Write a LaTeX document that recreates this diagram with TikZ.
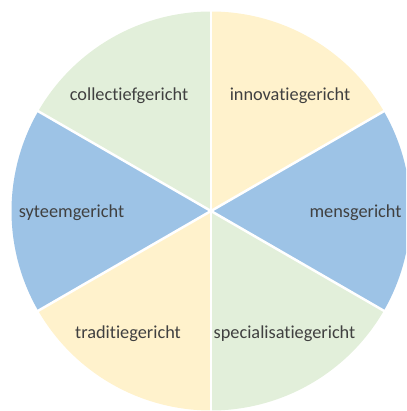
\documentclass[tikz,border=0pt]{standalone}
\usepackage{fontspec}
\setmainfont{Carlito}[Ligatures=NoCommon]
\usepackage{tikz}
\definecolor{Leaf}{HTML}{E2EFDA}
\definecolor{Cream}{HTML}{FFF2CC}
\definecolor{Sky}{HTML}{9DC3E6}
\definecolor{Ink}{HTML}{404040}

\begin{document}
\begin{tikzpicture}[x=1pt,y=1pt,
    sector/.style={draw=white,line width=2.5pt,line join=round},
    every node/.style={font=\fontsize{18.3}{21}\selectfont,text=Ink,inner sep=0pt}]
    \useasboundingbox (0,-411) rectangle (406,0);
    \clip (0,-411) rectangle (406,0);
    \coordinate (c) at (211,-211);
    % six sectors, clockwise from the top
    \foreach \a/\col in {90/Cream,30/Sky,-30/Leaf,-90/Cream,-150/Sky,150/Leaf}
      \fill[\col] (c) -- ++(\a:199.5) arc[start angle=\a,end angle=\a-60,radius=199.5] -- cycle;
    \foreach \a in {30,90,150,210,270,330}
      \draw[sector] (c) -- ++(\a:201);
    \node (inn) at (290,-96) {innovatiegericht};
    \node (mens) at (355.5,-213) {mensgericht};
    \node (spec) at (284.5,-334) {specialisatiegericht};
    \node (trad) at (128,-334) {traditiegericht};
    \node (sys) at (71.5,-213) {syteemgericht};
    \node (coll) at (129,-96) {collectiefgericht};
\end{tikzpicture}
\end{document}
